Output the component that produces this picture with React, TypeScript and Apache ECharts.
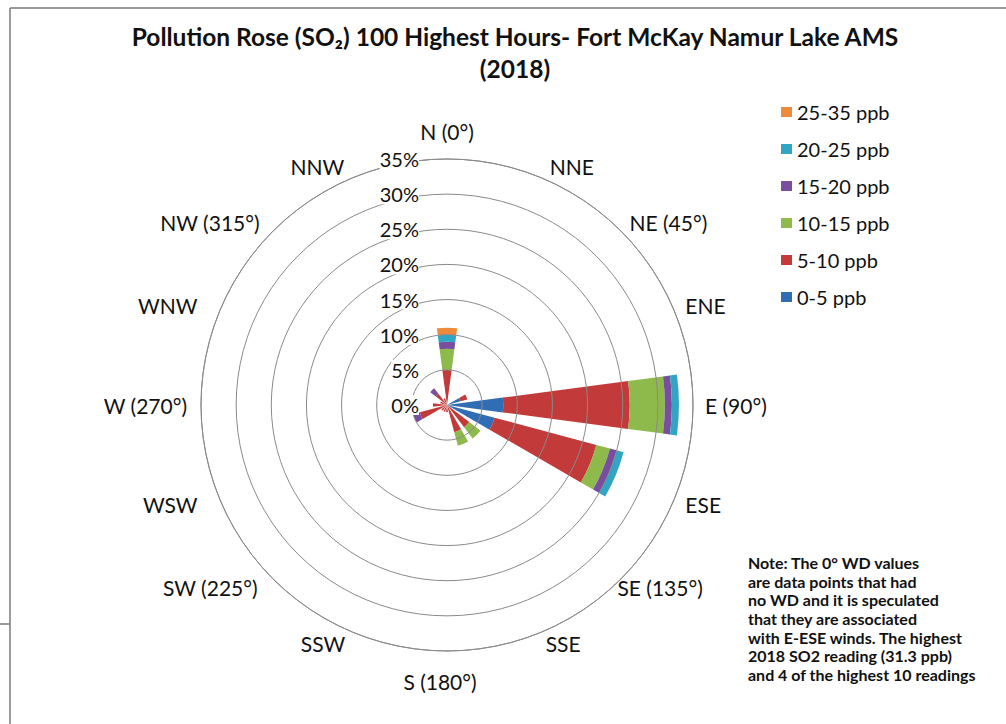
import { useEffect, useRef } from 'react';
import * as echarts from 'echarts';

const directions = ['N (0°)', 'NNE', 'NE (45°)', 'ENE', 'E (90°)', 'ESE', 'SE (135°)', 'SSE', 'S (180°)', 'SSW', 'SW (225°)', 'WSW', 'W (270°)', 'WNW', 'NW (315°)', 'NNW'];
const seriesNames = ['0-5 ppb', '5-10 ppb', '10-15 ppb', '15-20 ppb', '20-25 ppb', '25-35 ppb'];
const ppb0to5 = [0, 0, 0, 2, 8, 7, 0, 0, 0, 0, 0, 0, 0, 0, 0, 0];
const ppb5to10 = [5, 0, 0, 1, 18, 15, 4, 4, 1, 1, 1, 4, 2, 1, 2, 1];
const ppb10to15 = [3, 0, 0, 0, 5, 2, 2, 2, 0, 0, 0, 0, 0, 0, 0, 0];
const ppb15to20 = [1, 0, 0, 0, 1, 1, 0, 0, 0, 0, 0, 1, 0, 0, 1, 0];
const ppb20to25 = [1, 0, 0, 0, 1, 1, 0, 0, 0, 0, 0, 0, 0, 0, 0, 0];
const ppb25to35 = [1, 0, 0, 0, 0, 0, 0, 0, 0, 0, 0, 0, 0, 0, 0, 0];
const radiusMin = 0;
const radiusMax = 35;
const radiusStep = 5;
const colors = ['#2F6DB5', '#C23B3A', '#8DBA4A', '#7A4E9E', '#30A6C4', '#EE8A3C'];
const noteLines = [
  'Note: The 0° WD values',
  'are data points that had',
  'no WD and it is speculated',
  'that they are associated',
  'with E-ESE winds. The highest',
  '2018 SO2 reading (31.3 ppb)',
  'and 4 of the highest 10 readings',
];

// per-label fine tuning of the direction label placement (Excel-like middle alignment)
const labelTweaks: Record<string, { lineHeight?: number; padding?: number[] }> = {
  'N (0°)': { lineHeight: 31 },
  NNE: { lineHeight: 1, padding: [0, 0, 0, 4] },
  'NE (45°)': { lineHeight: 1 },
  ENE: { lineHeight: 1 },
  ESE: { lineHeight: 1 },
  'SE (135°)': { lineHeight: 1, padding: [0, 0, 0, -12] },
  SSE: { lineHeight: 1 },
  'S (180°)': { lineHeight: 37, padding: [0, 14, 0, 0] },
  SSW: { lineHeight: 1, padding: [0, 3, 0, 0] },
  'SW (225°)': { lineHeight: 1, padding: [0, 7, 0, 0] },
  WSW: { lineHeight: 1, padding: [0, 11, 0, 0] },
  'W (270°)': { padding: [0, 2, 0, 0] },
  WNW: { lineHeight: 1, padding: [0, 11, 0, 0] },
  'NW (315°)': { lineHeight: 1, padding: [0, 5, 0, 0] },
  NNW: { lineHeight: 1, padding: [0, 4, 0, 0] },
};

export default function App() {
  const ref = useRef<HTMLDivElement>(null);
  useEffect(() => {
    if (!ref.current) return;
    const chart = echarts.init(ref.current, null, { renderer: 'svg' });
    const values = [ppb0to5, ppb5to10, ppb10to15, ppb15to20, ppb20to25, ppb25to35];
    const font = 'Lato, "Open Sans", sans-serif';
    const gridColor = '#8a8a8a';
    const labelBase = { fontFamily: font, fontSize: 21, color: '#111' };
    const categoryData = directions.map((d) =>
      labelTweaks[d] ? { value: d, textStyle: { ...labelBase, ...labelTweaks[d] } } : d
    );
    chart.setOption({
      animation: false,
      backgroundColor: '#ffffff',
      color: colors,
      title: {
        text: 'Pollution Rose (SO₂) 100 Highest Hours- Fort McKay Namur Lake AMS\n(2018)',
        left: 510,
        top: 15,
        textAlign: 'center',
        textStyle: { fontFamily: font, fontWeight: 'bold', fontSize: 24.5, color: '#111', lineHeight: 32 },
      },
      legend: {
        orient: 'vertical',
        left: 776,
        top: 97,
        itemWidth: 11,
        itemHeight: 10,
        itemGap: 17,
        icon: 'rect',
        data: seriesNames.slice().reverse(),
        textStyle: { fontFamily: font, fontSize: 20, color: '#111' },
      },
      polar: [
        { center: [447, 405], radius: 246 },
        { center: [447, 405], radius: 246 },
      ],
      angleAxis: [
        {
          polarIndex: 0,
          type: 'category',
          data: categoryData,
          boundaryGap: false,
          startAngle: 90,
          clockwise: true,
          axisLine: { show: false },
          axisTick: { show: false },
          splitLine: { show: false },
          axisLabel: { ...labelBase, margin: 12 },
        },
        {
          polarIndex: 1,
          type: 'value',
          min: 0,
          max: 360,
          startAngle: 90,
          axisLine: { show: true, lineStyle: { color: gridColor, width: 1 } },
          axisTick: { show: false },
          axisLabel: { show: false },
          splitLine: { show: false },
        },
      ],
      radiusAxis: [
        {
          polarIndex: 0,
          type: 'value',
          min: radiusMin,
          max: radiusMax,
          interval: radiusStep,
          axisLine: { show: false },
          axisTick: { show: false },
          axisLabel: { show: false },
          splitLine: { show: false },
        },
        {
          polarIndex: 1,
          type: 'value',
          min: radiusMin,
          max: radiusMax,
          interval: radiusStep,
          axisLine: { show: false },
          axisTick: { show: false },
          splitLine: { show: true, lineStyle: { color: gridColor, width: 1 } },
          axisLabel: {
            formatter: '{value}%',
            fontFamily: font,
            fontSize: 20,
            color: '#111',
            margin: 28,
            backgroundColor: '#ffffff',
          },
          z: 10,
        },
      ],
      series: values.map((d, i) => ({
        type: 'bar',
        name: seriesNames[i],
        coordinateSystem: 'polar',
        polarIndex: 0,
        stack: 'total',
        data: d,
        barCategoryGap: '33%',
        itemStyle: { color: colors[i] },
      })),
      graphic: [
        { type: 'line', shape: { x1: 10, y1: 8, x2: 1006, y2: 8 }, style: { stroke: '#7a7a7a', lineWidth: 1.5 } },
        { type: 'line', shape: { x1: 10, y1: 8, x2: 10, y2: 724 }, style: { stroke: '#7a7a7a', lineWidth: 1.5 } },
        { type: 'line', shape: { x1: 0, y1: 624, x2: 10, y2: 624 }, style: { stroke: '#7a7a7a', lineWidth: 1.5 } },
        {
          type: 'text',
          left: 748,
          top: 553,
          style: {
            text: noteLines.join('\n'),
            font: 'bold 16px Lato, "Open Sans", sans-serif',
            fill: '#111',
            lineHeight: 18.7,
          },
        },
      ],
    });
    return () => chart.dispose();
  }, []);
  return <div ref={ref} style={{ position: 'absolute', left: 0, top: 0, width: 1006, height: 724 }} />;
}
